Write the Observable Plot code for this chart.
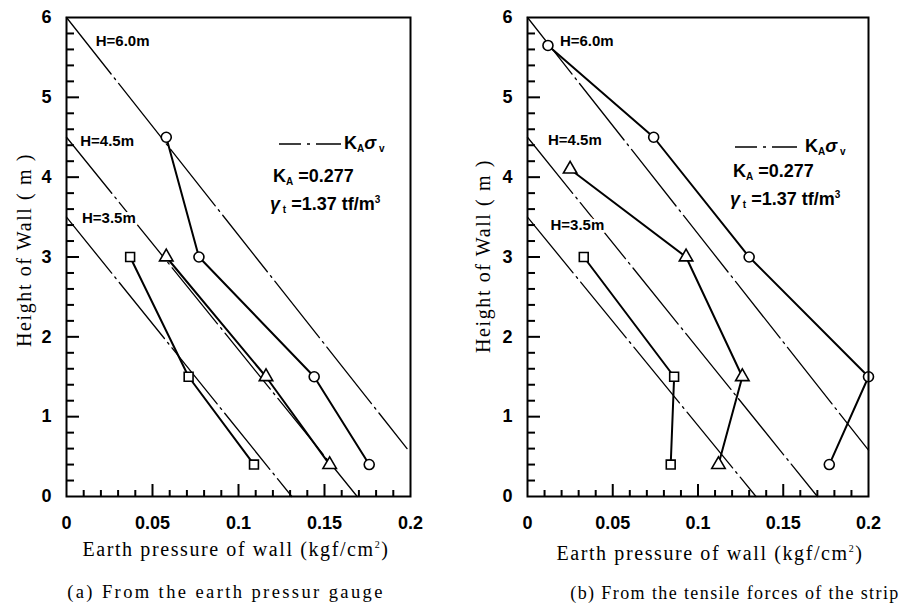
<!DOCTYPE html>
<html><head><meta charset="utf-8">
<script src="https://cdn.jsdelivr.net/npm/d3@7"></script>
<script src="https://cdn.jsdelivr.net/npm/@observablehq/plot@0.6"></script>
<style>
body{margin:0;background:#fff;}
#wrap{position:relative;width:912px;height:606px;overflow:hidden;font-family:"Liberation Serif","DejaVu Serif",serif;color:#000;}
.panel{position:absolute;top:0;width:456px;height:606px;}
.t{position:absolute;white-space:nowrap;line-height:1;}
.c{transform:translate(-50%,-50%);}
.yt{transform:translate(-50%,-50%) rotate(-90deg);}
.ser{font-size:20px;letter-spacing:1.6px;}
.cap{font-size:18px;letter-spacing:2.4px;}
.leg{font-family:"Liberation Sans",Arial,sans-serif;font-weight:bold;font-size:18px;transform:translateY(-50%);}
.leg sub{font-size:10px;vertical-align:-3px;}
.leg sup{font-size:10px;vertical-align:7px;}
</style></head><body><div id="wrap"></div>
<script>
// ---- data ----
const seriesNames = ["H=6.0m", "H=4.5m", "H=3.5m"];
const seriesSymbols = ["circle", "triangle", "square"];
const xTickValues = [0, 0.05, 0.1, 0.15, 0.2];
const yTickValues = [0, 1, 2, 3, 4, 5, 6];

// K_A sigma_v reference lines: start at (0, H), end points
const refStartY = [6.0, 4.5, 3.5];
const refEndX_a = [0.198, 0.169, 0.131];
const refEndY_a = [0.6, 0, 0];
const refEndX_b = [0.2, 0.17, 0.134];
const refEndY_b = [0.58, 0, 0];

// (a) From the earth pressure gauge
const a_H60_x = [0.058, 0.077, 0.144, 0.176];
const a_H60_y = [4.5, 3.0, 1.5, 0.4];
const a_H45_x = [0.058, 0.116, 0.153];
const a_H45_y = [3.0, 1.5, 0.4];
const a_H35_x = [0.037, 0.071, 0.109];
const a_H35_y = [3.0, 1.5, 0.4];

// (b) From the tensile forces of the strip
const b_H60_x = [0.012, 0.074, 0.130, 0.200, 0.177];
const b_H60_y = [5.65, 4.5, 3.0, 1.5, 0.4];
const b_H45_x = [0.025, 0.093, 0.126, 0.112];
const b_H45_y = [4.1, 3.0, 1.5, 0.4];
const b_H35_x = [0.033, 0.086, 0.084];
const b_H35_y = [3.0, 1.5, 0.4];

// ---- build ----
function rows(xs, ys, name) { return xs.map((x, i) => ({x, y: ys[i], series: name})); }
function refRows(endX, endY) {
  const out = [];
  seriesNames.forEach((name, i) => {
    out.push({x: 0, y: refStartY[i], series: name});
    out.push({x: endX[i], y: endY[i], series: name});
  });
  return out;
}

const xMinor = d3.range(1, 20).map(i => i / 100).filter(v => Math.abs(v * 20 - Math.round(v * 20)) > 1e-9);
const xMajor = xTickValues.slice(1, -1);
const yMinor = d3.range(1, 30).map(i => i / 5).filter(v => Math.abs(v - Math.round(v)) > 1e-9);
const yMajor = yTickValues.slice(1, -1);

const W = 456, H = 606;
function panel(opts) {
  const {ml, mr, mt, mb, points, refs, labelX, labelY} = opts;
  const pw = W - ml - mr, ph = H - mt - mb;
  const py = 6 / ph, px = 0.2 / pw; // data units per pixel (tick lengths)
  const labels = seriesNames.map((s, i) => ({x: labelX[i], y: labelY[i], text: s}));
  return Plot.plot({
    width: W, height: H,
    marginLeft: ml, marginRight: mr, marginTop: mt, marginBottom: mb,
    style: {fontFamily: "'Liberation Sans', Arial, sans-serif", fontWeight: "bold", fontSize: "18px", background: "white", color: "black"},
    x: {domain: [0, 0.2], ticks: xTickValues, tickSize: 0, tickPadding: 20, tickFormat: d => String(d), label: null},
    y: {domain: [0, 6], ticks: yTickValues, tickSize: 0, tickPadding: 15, tickFormat: d => String(d), label: null},
    symbol: {domain: seriesNames, range: seriesSymbols},
    marks: [
      Plot.ruleX(xMinor, {x: d => d, y1: 0, y2: 6 * py, stroke: "black", strokeWidth: 2}),
      Plot.ruleX(xMajor, {x: d => d, y1: 0, y2: 12 * py, stroke: "black", strokeWidth: 2}),
      Plot.ruleY(yMinor, {y: d => d, x1: 0, x2: 8 * px, stroke: "black", strokeWidth: 2}),
      Plot.ruleY(yMajor, {y: d => d, x1: 0, x2: 13 * px, stroke: "black", strokeWidth: 2}),
      Plot.line(refs, {x: "x", y: "y", z: "series", stroke: "black", strokeWidth: 1.3, strokeDasharray: "72,5,2,5"}),
      Plot.text(labels, {x: "x", y: "y", text: "text", textAnchor: "start", fontSize: 15, fontWeight: "bold", fill: "black", stroke: "white", strokeWidth: 6}),
      Plot.line(points, {x: "x", y: "y", z: "series", stroke: "black", strokeWidth: 2}),
      Plot.dot(points, {x: "x", y: "y", symbol: "series", r: 5, stroke: "black", fill: "white", strokeWidth: 1.6}),
      Plot.frame({stroke: "black", strokeWidth: 2})
    ]
  });
}

const ptsA = [...rows(a_H60_x, a_H60_y, seriesNames[0]), ...rows(a_H45_x, a_H45_y, seriesNames[1]), ...rows(a_H35_x, a_H35_y, seriesNames[2])];
const ptsB = [...rows(b_H60_x, b_H60_y, seriesNames[0]), ...rows(b_H45_x, b_H45_y, seriesNames[1]), ...rows(b_H35_x, b_H35_y, seriesNames[2])];

const wrap = document.getElementById("wrap");
function legendHTML(lx, ly, tx, k1x, k1y, g1x, g1y, sub) {
  return `
  <svg class="t" style="left:${lx}px;top:${ly - 3}px" width="62" height="6"><line x1="0" y1="3" x2="62" y2="3" stroke="black" stroke-width="1.5" stroke-dasharray="22,6,3,6,25"/></svg>
  <div class="t leg" style="left:${tx}px;top:${ly}px">K<sub>A</sub><i style="font-style:italic">σ</i><sub> v</sub></div>
  <div class="t leg" style="left:${k1x}px;top:${k1y}px">K<sub>A</sub> =0.277</div>
  <div class="t leg" style="left:${g1x}px;top:${g1y}px"><i>γ</i><sub> ${sub}</sub> =1.37 tf/m<sup>3</sup></div>`;
}

const pa = document.createElement("div"); pa.className = "panel"; pa.style.left = "0px";
pa.appendChild(panel({ml: 66, mr: 46, mt: 17, mb: 110, points: ptsA, refs: refRows(refEndX_a, refEndY_a),
  labelX: [0.017, 0.008, 0.009], labelY: [5.7, 4.45, 3.49]}));
pa.insertAdjacentHTML("beforeend", legendHTML(279, 144, 344, 273, 177, 270, 205, "t") +
  `<div class="t yt ser" style="left:24px;top:250px">Height of Wall ( m )</div>
   <div class="t c ser" style="left:236px;top:549px">Earth pressure of wall (kgf/cm<sup style="font-size:10px">2</sup>)</div>
   <div class="t c cap" style="left:226px;top:592px;font-size:18.5px">(a) From the earth pressur gauge</div>`);
wrap.appendChild(pa);

const pb = document.createElement("div"); pb.className = "panel"; pb.style.left = "456px";
pb.appendChild(panel({ml: 71, mr: 44, mt: 17, mb: 110, points: ptsB, refs: refRows(refEndX_b, refEndY_b),
  labelX: [0.019, 0.012, 0.0135], labelY: [5.7, 4.46, 3.4]}));
pb.insertAdjacentHTML("beforeend", legendHTML(279, 147, 349, 277, 172, 274, 200, "t") +
  `<div class="t yt ser" style="left:27px;top:256px">Height of Wall ( m )</div>
   <div class="t c ser" style="left:254px;top:553px">Earth pressure of wall (kgf/cm<sup style="font-size:10px">2</sup>)</div>
   <div class="t c cap" style="left:279px;top:593px;letter-spacing:1.4px">(b) From the tensile forces of the strip</div>`);
wrap.appendChild(pb);
</script>
</body></html>
